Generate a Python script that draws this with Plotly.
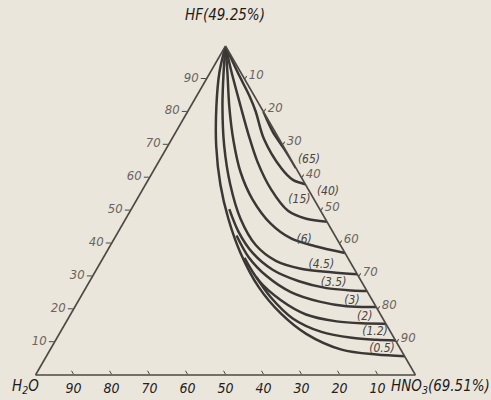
import plotly.graph_objects as go

# ---- data: iso-etch curves, values in % (HF, HNO3); H2O is the remainder ----
curve_names = ["(0.5)", "(1.2)", "(2)", "(3)", "(3.5)", "(4.5)", "(6)", "(15)", "(40)", "(65)"]

hf_05 = [100, 92.0, 81.6, 69.7, 57.9, 47.5, 37.1, 26.7, 18.7, 12.5, 7.7, 6.2, 5.7]
hno3_05 = [0, 2.4, 6.8, 12.7, 19.7, 27.0, 35.4, 45.4, 55.2, 65.0, 76.7, 86.7, 94.3]

hf_12 = [29.7, 23.7, 17.2, 13.1, 11.3, 10.7, 10.5]
hno3_12 = [43.3, 50.0, 59.1, 68.7, 77.6, 84.5, 89.5]

hf_2 = [35.6, 28.8, 22.8, 18.4, 16.3, 15.7, 15.6]
hno3_2 = [37.2, 44.3, 53.1, 62.0, 71.1, 78.0, 84.4]

hf_3 = [42.4, 35.9, 30.0, 25.2, 22.3, 20.9, 20.7]
hno3_3 = [31.7, 38.1, 45.9, 54.6, 63.6, 71.4, 79.3]

hf_35 = [50.4, 43.6, 37.1, 32.0, 28.5, 26.4, 25.7, 25.5]
hno3_35 = [25.8, 31.6, 38.6, 46.4, 55.1, 63.4, 70.4, 74.5]

hf_45 = [100, 92.0, 81.6, 69.7, 57.9, 47.5, 39.5, 34.7, 32.3, 31.2, 30.6]
hno3_45 = [0, 3.5, 8.4, 14.8, 22.3, 30.2, 38.2, 45.9, 53.7, 62.3, 69.4]

hf_6 = [100, 92.0, 81.6, 71.2, 61.7, 53.4, 46.0, 41.5, 39.2, 37.1]
hno3_6 = [0, 4.5, 10.2, 16.5, 23.1, 30.4, 38.9, 46.5, 53.8, 62.9]

hf_15 = [100, 92.0, 81.6, 72.7, 64.7, 56.4, 49.9, 47.5, 46.6]
hno3_15 = [0, 5.6, 13.2, 19.8, 26.1, 33.8, 41.5, 47.5, 53.4]

hf_40 = [100, 92.0, 84.6, 80.1, 71.8, 62.9, 59.3, 58.0]
hno3_40 = [0, 7.2, 14.1, 17.9, 24.2, 33.2, 38.1, 42.0]

hf_65 = [80.0, 73.9, 68.8, 63.0]
hno3_65 = [20.0, 25.5, 31.0, 37.0]

curves_hf = [hf_05, hf_12, hf_2, hf_3, hf_35, hf_45, hf_6, hf_15, hf_40, hf_65]
curves_hno3 = [hno3_05, hno3_12, hno3_2, hno3_3, hno3_35, hno3_45, hno3_6, hno3_15, hno3_40, hno3_65]

# label anchor positions (HF, HNO3) and whether they sit outside the triangle
label_hf = [8.0, 13.1, 17.5, 22.6, 27.9, 33.5, 41.0, 53.1, 55.5, 65.5]
label_hno3 = [87.2, 82.8, 77.9, 72.0, 64.5, 58.5, 50.2, 42.9, 44.5, 34.5]
label_outside = [False, False, False, False, False, False, False, False, True, True]

tick_vals = [10, 20, 30, 40, 50, 60, 70, 80, 90]

# ---- styling ----
BG = "#ebe6dc"
INK = "#3b3734"
FONT = "Liberation Sans Narrow, DejaVu Sans Condensed, Arial Narrow, sans-serif"

fig = go.Figure()

for hf, hn in zip(curves_hf, curves_hno3):
    h2o = [round(100 - a - c, 3) for a, c in zip(hf, hn)]
    fig.add_trace(go.Scatterternary(
        a=hf, b=h2o, c=hn, mode="lines",
        line=dict(color=INK, width=2.5, shape="spline", smoothing=0.9),
        hoverinfo="skip", showlegend=False,
    ))

inside = [i for i in range(len(curve_names)) if not label_outside[i]]
outside = [i for i in range(len(curve_names)) if label_outside[i]]

for idxs, pos in ((inside, "middle center"), (outside, "middle right")):
    a = [label_hf[i] for i in idxs]
    c = [label_hno3[i] for i in idxs]
    b = [round(100 - x - y, 3) for x, y in zip(a, c)]
    fig.add_trace(go.Scatterternary(
        a=a, b=b, c=c, mode="text",
        text=[("\u00a0\u00a0" if pos == "middle right" else "") + curve_names[i] for i in idxs],
        textposition=pos, cliponaxis=False,
        textfont=dict(family=FONT, size=12, color="#4a4541", style="italic"),
        hoverinfo="skip", showlegend=False,
    ))

axis_common = dict(
    tickmode="array", tickvals=tick_vals, ticktext=[str(v) for v in tick_vals],
    showgrid=False, linecolor="#4d4843", linewidth=1.6,
    tickcolor="#4d4843", min=0, title=dict(text=""),
)

TITLE_FONT = dict(family=FONT, size=15, color="#1e1b19", style="italic")

fig.update_layout(
    width=491, height=400,
    margin=dict(l=0, r=0, t=0, b=0),
    paper_bgcolor=BG,
    font=dict(family=FONT, color=INK, style="italic"),
    ternary=dict(
        sum=100,
        bgcolor=BG,
        domain=dict(x=[35.5 / 491, 415.5 / 491], y=[25 / 400, 354 / 400]),
        aaxis=dict(**axis_common, ticks="outside", ticklen=5,
                   tickfont=dict(family=FONT, size=13, color="#6a645e", style="italic")),
        baxis=dict(**axis_common, ticks="inside", ticklen=4,
                   tickfont=dict(family=FONT, size=14, color="#24211f", style="italic")),
        caxis=dict(**axis_common, ticks="outside", ticklen=3,
                   tickfont=dict(family=FONT, size=13, color="#6a645e", style="italic")),
    ),
    annotations=[
        dict(text="HF(49.25%)", x=225 / 491, y=1 - 15 / 400, xref="paper", yref="paper",
             showarrow=False, font=TITLE_FONT, xanchor="center", yanchor="middle"),
        dict(text="H<sub>2</sub>O", x=25 / 491, y=1 - 386 / 400, xref="paper", yref="paper",
             showarrow=False, font=TITLE_FONT, xanchor="center", yanchor="middle"),
        dict(text="HNO<sub>3</sub>(69.51%)", x=440 / 491, y=1 - 386 / 400, xref="paper", yref="paper",
             showarrow=False, font=TITLE_FONT, xanchor="center", yanchor="middle"),
    ],
)

fig.write_html(
    "out.html",
    config={"displayModeBar": False},
    post_script="document.body.style.margin='0';document.body.style.overflow='hidden';",
)
